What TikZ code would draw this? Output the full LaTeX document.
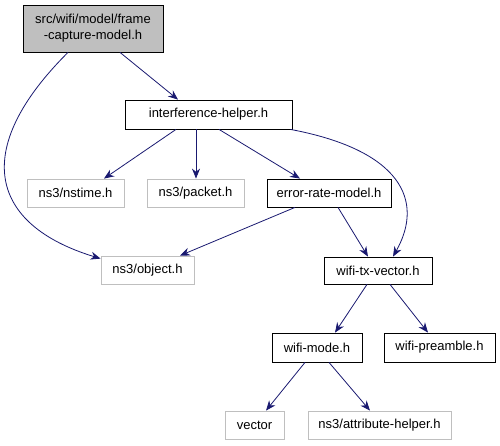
\documentclass[tikz,border=0pt]{standalone}
\usepackage{fontspec}
\setmainfont{Liberation Sans}
\usepackage{tikz}
\usetikzlibrary{arrows.meta}
\usetikzlibrary{positioning}
\definecolor{edgeblue}{HTML}{191970}
\definecolor{boxgray}{HTML}{BFBFBF}
\tikzstyle{file} = [draw=black, line width=0.8pt, rectangle, inner sep=0pt, minimum height=29pt, font=\fontsize{13}{16}\selectfont]
\tikzstyle{extfile} = [file, draw=boxgray, minimum height=28pt]
\tikzstyle{rootfile} = [file, fill=boxgray, minimum height=47pt, align=center]
\tikzstyle{edge} = [-{Stealth[length=10pt,width=8pt]}, draw=edgeblue, line width=0.8pt]

\begin{document}
\begin{tikzpicture}
                        \useasboundingbox (0pt,0pt) rectangle (500pt,-445pt);
                        \node[rootfile, minimum width=140pt](root) at (93pt,-28.5pt) {src/wifi/model/frame\\-capture-model.h};
                        \node[file, minimum width=167pt, below of=root, node distance=86pt, xshift=115.5pt](helper) {interference-helper.h};
                        \node[extfile, minimum width=97pt, below of=helper, node distance=78.5pt, xshift=-133pt](nstime) {ns3/nstime.h};
                        \node[extfile, minimum width=97pt, below of=helper, node distance=78.5pt, xshift=-13pt](packet) {ns3/packet.h};
                        \node[file, minimum width=124pt, minimum height=28pt, below of=helper, node distance=78.5pt, xshift=120.5pt](errmodel) {error-rate-model.h};
                        \node[extfile, minimum width=93pt, below of=packet, node distance=77pt, xshift=-48pt](object) {ns3/object.h};
                        \node[file, minimum width=108pt, minimum height=27pt, below of=errmodel, node distance=77.5pt, xshift=49pt](txvector) {wifi-tx-vector.h};
                        \node[file, minimum width=90pt, below of=txvector, node distance=77pt, xshift=-61pt](mode) {wifi-mode.h};
                        \node[file, minimum width=111pt, below of=txvector, node distance=77pt, xshift=61.5pt](preamble) {wifi-preamble.h};
                        \node[extfile, minimum width=59pt, below of=mode, node distance=77.5pt, xshift=-62.5pt](vector) {vector};
                        \node[extfile, minimum width=143pt, below of=mode, node distance=77.5pt, xshift=62.5pt](attrhelper) {ns3/attribute-helper.h};

                        \draw[edge]([xshift=27pt]root.south) -- ([xshift=-30.5pt]helper.north);
                        \draw[edge]([xshift=-25pt]root.south) .. controls (-30pt,-150pt) and (-10pt,-225pt) .. ([yshift=-3pt]object.north west);
                        \draw[edge]([xshift=-32.5pt]helper.south) -- ([xshift=28.5pt]nstime.north);
                        \draw[edge]([xshift=-12.5pt]helper.south) -- ([xshift=0.5pt]packet.north);
                        \draw[edge]([xshift=10.5pt]helper.south) -- ([xshift=-29pt]errmodel.north);
                        \draw[edge]([xshift=-2pt]helper.south east) .. controls (400pt,-150pt) and (425pt,-200pt) .. ([xshift=15pt]txvector.north);
                        \draw[edge]([xshift=-34pt]errmodel.south) -- ([xshift=32.5pt]object.north);
                        \draw[edge]([xshift=9pt]errmodel.south) -- ([xshift=-10pt]txvector.north);
                        \draw[edge]([xshift=-11pt]txvector.south) -- ([xshift=18pt]mode.north);
                        \draw[edge]([xshift=12pt]txvector.south) -- ([xshift=-11.5pt]preamble.north);
                        \draw[edge]([xshift=-12pt]mode.south) -- ([xshift=11.5pt]vector.north);
                        \draw[edge]([xshift=12pt]mode.south) -- ([xshift=-9.5pt]attrhelper.north);
                    \end{tikzpicture}
\end{document}
